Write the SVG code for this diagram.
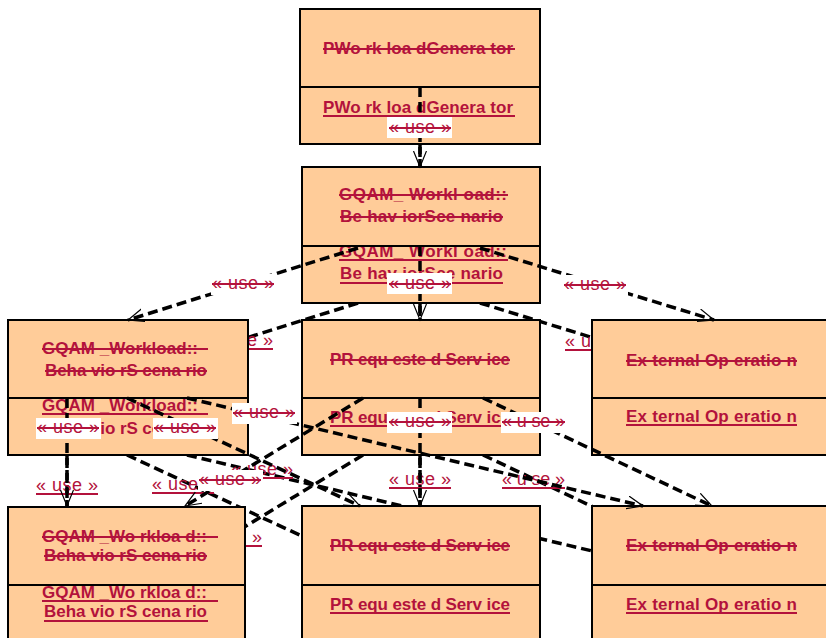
<svg xmlns="http://www.w3.org/2000/svg" width="826" height="638" viewBox="0 0 826 638">
<style>
.box{fill:#FFCC99;stroke:#000;stroke-width:2}
.nt{font-family:"Liberation Sans",Arial,sans-serif;font-size:17px;font-weight:bold;fill:#B3123C}
.lb{font-family:"Liberation Sans",Arial,sans-serif;font-size:18px;fill:#B3123C}
.dl{stroke:#B3123C;stroke-width:2}
.cn{fill:none;stroke:#000;stroke-width:3.5;stroke-dasharray:10 5;marker-end:url(#arr)}
.bg{fill:#fff}
</style>
<defs>
<marker id="arr" markerUnits="userSpaceOnUse" markerWidth="20" markerHeight="16" refX="16" refY="7" orient="auto">
<path d="M0,0.5 L16,7 L0,13.5" fill="none" stroke="#000" stroke-width="1.2"/>
</marker>
</defs>

<g id="connectors-new">
<path class="cn" d="M420,144 L420,246"/>
<path class="cn" d="M358,303 L128,375"/>
<path class="cn" d="M420,303 L420,375"/>
<path class="cn" d="M480,303 L714,375"/>
<path class="cn" d="M67,455 L67,563"/>
<path class="cn" d="M127,455 L360,563"/>
<path class="cn" d="M187,455 L643,563"/>
<path class="cn" d="M363,455 L185,563"/>
<path class="cn" d="M420,455 L420,563"/>
<path class="cn" d="M483,455 L712,563"/>
<text class="lb" x="211" y="346" textLength="62">« use »</text><line class="dl" x1="211" y1="349" x2="273" y2="349"/>
<text class="lb" x="565" y="347" textLength="62">« use »</text><line class="dl" x1="565" y1="350" x2="627" y2="350"/>
<text class="lb" x="36" y="491" textLength="62">« use »</text><line class="dl" x1="36" y1="494" x2="98" y2="494"/>
<text class="lb" x="152" y="490" textLength="62">« use »</text><line class="dl" x1="152" y1="493" x2="214" y2="493"/>
<text class="lb" x="231" y="475" textLength="62">« use »</text><line class="dl" x1="231" y1="478" x2="293" y2="478"/>
<text class="lb" x="200" y="543" textLength="62">« use »</text><line class="dl" x1="200" y1="546" x2="262" y2="546"/>
<text class="lb" x="389" y="485" textLength="62">« use »</text><line class="dl" x1="389" y1="488" x2="451" y2="488"/>
<text class="lb" x="502" y="485" textLength="63">« u se »</text><line class="dl" x1="502" y1="488" x2="565" y2="488"/>
</g>

<g id="n-pwg">
<rect class="box" x="300" y="9" width="240" height="135"/>
<text class="nt" x="323" y="113" textLength="190">PWo rk loa dGenera tor</text>
<line class="dl" x1="323" y1="116" x2="515" y2="116"/>
<rect class="box" x="300" y="9" width="240" height="78"/>
<text class="nt" x="323" y="54" textLength="190">PWo rk loa dGenera tor</text>
<line class="dl" x1="323" y1="49" x2="515" y2="49"/>
</g>

<g id="n-bs1">
<rect class="box" x="302" y="167" width="238" height="136"/>
<text class="nt" x="339" y="257" textLength="168">GQAM_ Workl oad::</text>
<line class="dl" x1="339" y1="260" x2="508" y2="260"/>
<text class="nt" x="340" y="279" textLength="163">Be hav iorSce nario</text>
<line class="dl" x1="340" y1="283" x2="503" y2="283"/>
<rect class="box" x="302" y="167" width="238" height="79"/>
<text class="nt" x="339" y="200" textLength="168">GQAM_ Workl oad::</text>
<line class="dl" x1="339" y1="195" x2="508" y2="195"/>
<text class="nt" x="340" y="222" textLength="163">Be hav iorSce nario</text>
<line class="dl" x1="340" y1="217" x2="503" y2="217"/>
</g>

<g id="n-bs2">
<rect class="box" x="8" y="320" width="240" height="135"/>
<text class="nt" x="42" y="411" textLength="156">GQAM _Workload::</text>
<line class="dl" x1="42" y1="414" x2="208" y2="414"/>
<text class="nt" x="45" y="434" textLength="162">Beha vio rS cena rio</text>
<rect class="box" x="8" y="320" width="240" height="78"/>
<text class="nt" x="42" y="354" textLength="156">GQAM _Workload::</text>
<line class="dl" x1="42" y1="349" x2="208" y2="349"/>
<text class="nt" x="45" y="376" textLength="162">Beha vio rS cena rio</text>
<line class="dl" x1="45" y1="371" x2="207" y2="371"/>
</g>

<g id="n-prs1">
<rect class="box" x="302" y="320" width="238" height="135"/>
<text class="nt" x="330" y="423" textLength="180">PR equ este d Serv ice</text>
<line class="dl" x1="330" y1="426" x2="510" y2="426"/>
<rect class="box" x="302" y="320" width="238" height="78"/>
<text class="nt" x="330" y="365" textLength="180">PR equ este d Serv ice</text>
<line class="dl" x1="330" y1="360" x2="510" y2="360"/>
</g>

<g id="n-ext1">
<rect class="box" x="592" y="320" width="260" height="135"/>
<text class="nt" x="626" y="422" textLength="171">Ex ternal Op eratio n</text>
<line class="dl" x1="626" y1="425" x2="797" y2="425"/>
<rect class="box" x="592" y="320" width="260" height="78"/>
<text class="nt" x="626" y="366" textLength="171">Ex ternal Op eratio n</text>
<line class="dl" x1="626" y1="361" x2="797" y2="361"/>
</g>

<g id="n-bs3">
<rect class="box" x="8" y="507" width="237" height="160"/>
<text class="nt" x="42" y="598" textLength="165">GQAM _Wo rkloa d::</text>
<line class="dl" x1="42" y1="601" x2="218" y2="601"/>
<text class="nt" x="44" y="617" textLength="163">Beha vio rS cena rio</text>
<line class="dl" x1="44" y1="621" x2="208" y2="621"/>
<rect class="box" x="8" y="507" width="237" height="78"/>
<text class="nt" x="42" y="542" textLength="165">GQAM _Wo rkloa d::</text>
<line class="dl" x1="42" y1="537" x2="218" y2="537"/>
<text class="nt" x="44" y="561" textLength="163">Beha vio rS cena rio</text>
<line class="dl" x1="44" y1="556" x2="207" y2="556"/>
</g>

<g id="n-prs2">
<rect class="box" x="302" y="506" width="238" height="160"/>
<text class="nt" x="330" y="610" textLength="180">PR equ este d Serv ice</text>
<line class="dl" x1="330" y1="613" x2="510" y2="613"/>
<rect class="box" x="302" y="506" width="238" height="79"/>
<text class="nt" x="330" y="551" textLength="180">PR equ este d Serv ice</text>
<line class="dl" x1="330" y1="546" x2="510" y2="546"/>
</g>

<g id="n-ext2">
<rect class="box" x="592" y="506" width="260" height="160"/>
<text class="nt" x="626" y="610" textLength="171">Ex ternal Op eratio n</text>
<line class="dl" x1="626" y1="613" x2="797" y2="613"/>
<rect class="box" x="592" y="506" width="260" height="79"/>
<text class="nt" x="626" y="551" textLength="171">Ex ternal Op eratio n</text>
<line class="dl" x1="626" y1="546" x2="797" y2="546"/>
</g>

<g id="connectors-old">
<path class="cn" d="M420,87 L420,167"/>
<path class="cn" d="M358,248 L128,320"/>
<path class="cn" d="M420,246 L420,320"/>
<path class="cn" d="M480,248 L714,320"/>
<path class="cn" d="M67,398 L67,506"/>
<path class="cn" d="M127,398 L360,506"/>
<path class="cn" d="M187,398 L643,506"/>
<path class="cn" d="M363,398 L185,506"/>
<path class="cn" d="M420,398 L420,506"/>
<path class="cn" d="M483,398 L712,506"/>
<rect class="bg" x="387" y="117" width="65" height="21"/><text class="lb" x="389" y="133" textLength="62">« use »</text><line class="dl" x1="389" y1="128" x2="451" y2="128"/>
<rect class="bg" x="211" y="274" width="65" height="21"/><text class="lb" x="212" y="289" textLength="62">« use »</text><line class="dl" x1="212" y1="284" x2="274" y2="284"/>
<rect class="bg" x="387" y="273" width="65" height="21"/><text class="lb" x="389" y="289" textLength="62">« use »</text><line class="dl" x1="389" y1="284" x2="451" y2="284"/>
<rect class="bg" x="563" y="275" width="65" height="21"/><text class="lb" x="564" y="290" textLength="62">« use »</text><line class="dl" x1="564" y1="285" x2="626" y2="285"/>
<rect class="bg" x="36" y="418" width="65" height="21"/><text class="lb" x="37" y="433" textLength="62">« use »</text><line class="dl" x1="37" y1="428" x2="99" y2="428"/>
<rect class="bg" x="153" y="418" width="65" height="21"/><text class="lb" x="154" y="433" textLength="62">« use »</text><line class="dl" x1="154" y1="428" x2="216" y2="428"/>
<rect class="bg" x="232" y="403" width="65" height="21"/><text class="lb" x="233" y="418" textLength="62">« use »</text><line class="dl" x1="233" y1="413" x2="295" y2="413"/>
<rect class="bg" x="198" y="470" width="65" height="21"/><text class="lb" x="199" y="485" textLength="62">« use »</text><line class="dl" x1="199" y1="480" x2="261" y2="480"/>
<rect class="bg" x="387" y="412" width="65" height="21"/><text class="lb" x="389" y="427" textLength="62">« use »</text><line class="dl" x1="389" y1="422" x2="451" y2="422"/>
<rect class="bg" x="501" y="412" width="65" height="21"/><text class="lb" x="502" y="427" textLength="63">« u se »</text><line class="dl" x1="502" y1="422" x2="565" y2="422"/>
</g>
</svg>
